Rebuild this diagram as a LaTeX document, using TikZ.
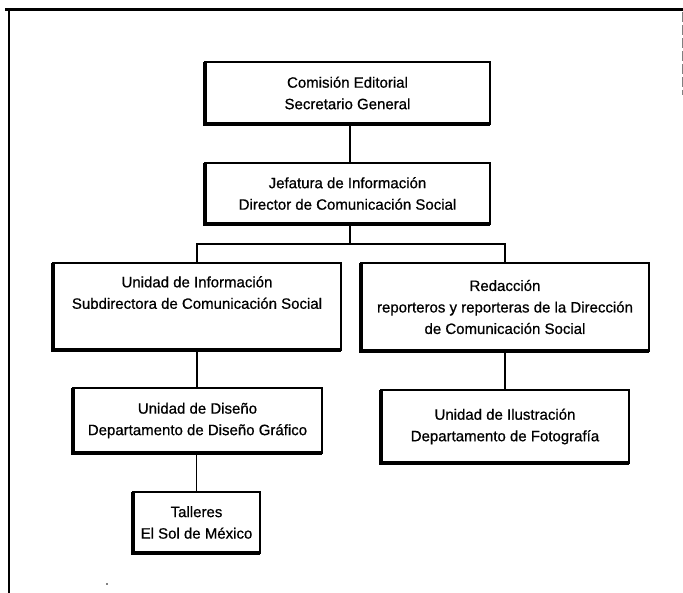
\documentclass[tikz,border=0pt]{standalone}
\usepackage{fontspec}
\newfontfamily\lab[FakeBold=0.7]{Liberation Sans}
\begin{document}
\begin{tikzpicture}[x=1pt,y=-1pt,
  box/.style={draw, line width=1.4pt, align=center, inner sep=0pt, outer sep=0pt,
    font=\lab\fontsize{15}{21.5}\selectfont},
  link/.style={line width=1.2pt},
  frame/.style={line width=3pt}]
\useasboundingbox (0,0) rectangle (683,593);
% frame remnants
\coordinate (ftl) at (5,10);
\coordinate (ftr) at (683,10);
\coordinate (fbl) at (9,593);
\coordinate (fr1) at (682,12);
\coordinate (fr2) at (682,95);
\draw[frame] (ftl) -- (ftr);
\draw[line width=2.2pt] (9,10) -- (fbl);
\draw[line width=0.8pt, gray, dash pattern=on 10pt off 3pt] (fr1) -- (fr2);
\fill (107,584) circle (0.9);
% boxes
\node[box, minimum width=285, minimum height=62] (com) at (347.5,93)
  {Comisión Editorial\\Secretario General};
\node[box, minimum width=285, minimum height=61] (jef) at (347.5,193.5)
  {Jefatura de Información\\Director de Comunicación Social};
\node[box, minimum width=288, minimum height=87] (uni) at (197,306.5)
  {Unidad de Información\\Subdirectora de Comunicación Social\\\strut};
\node[box, minimum width=288, minimum height=88] (red) at (505,307)
  {Redacción\\reporteros y reporteras de la Dirección\\de Comunicación Social};
\node[box, minimum width=249, minimum height=65] (dis) at (197.5,420.5)
  {Unidad de Diseño\\Departamento de Diseño Gráfico};
\node[box, minimum width=248, minimum height=73] (ilu) at (505,426.5)
  {Unidad de Ilustración\\Departamento de Fotografía};
\node[box, minimum width=127, minimum height=61] (tal) at (196.5,522.5)
  {Talleres\\El Sol de México};
% heavy left and bottom edges
\foreach \n in {com,jef,uni,red,dis,ilu,tal}
  \draw[line width=3.4pt] (\n.north west) -- (\n.south west) -- (\n.south east);
% connectors
\coordinate (bus) at (350,244);
\draw[link] (com.south -| bus) -- (jef.north -| bus);
\draw[link] (jef.south -| bus) -- (bus);
\draw[link] (uni.north) |- (bus) -| (red.north);
\draw[link] (uni.south) -- (dis.north -| uni.south);
\draw[link] (red.south) -- (ilu.north);
\draw[link] (dis.south -| tal.north) -- (tal.north);
\end{tikzpicture}
\end{document}
